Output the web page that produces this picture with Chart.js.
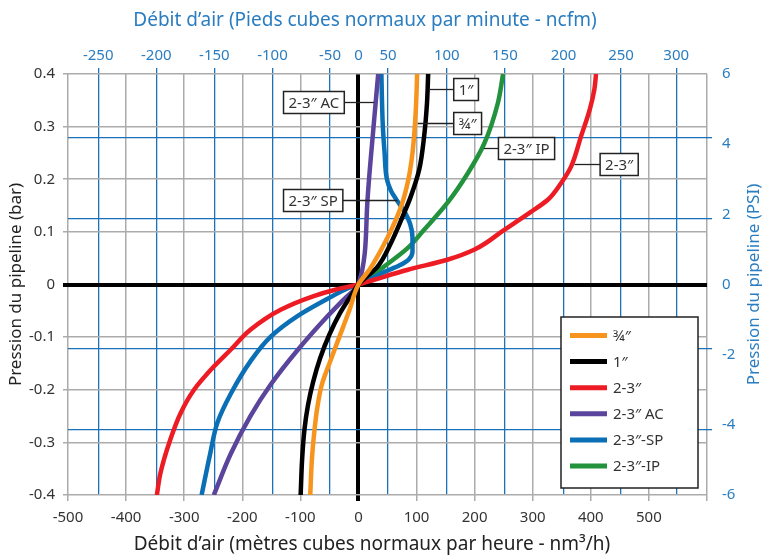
<!DOCTYPE html>
<html>
<head>
<meta charset="utf-8">
<script src="https://cdn.jsdelivr.net/npm/chart.js@4.4.0/dist/chart.umd.min.js"></script>
<style>
html, body { margin: 0; padding: 0; background: #fff; }
</style>
</head>
<body>
<canvas id="myChart" width="762" height="557"></canvas>
<script>
// series (débit en nm³/h, pression en bar)
const seriesLabels = ['¾″', '1″', '2-3″', '2-3″ AC', '2-3″-SP', '2-3″-IP']
const seriesColors = ['#f7941d', '#000000', '#ed1c24', '#5b449b', '#0a6fb5', '#23923d']

const flow34 = [-83, -80, -76, -71, -63, -50, -33, -16, 0, 20, 40, 57, 74, 86, 93, 97, 99.5, 101]
const pressure34 = [-0.4, -0.33, -0.28, -0.235, -0.19, -0.15, -0.1, -0.05, 0, 0.03, 0.068, 0.105, 0.15, 0.2, 0.25, 0.3, 0.35, 0.4]

const flow1 = [-99.5, -97, -93, -87, -78, -66, -50, -32, -15, 0, 33, 56, 76, 90, 104.5, 113, 118, 120]
const pressure1 = [-0.4, -0.333, -0.276, -0.23, -0.185, -0.14, -0.095, -0.055, -0.025, 0, 0.034, 0.079, 0.129, 0.167, 0.218, 0.281, 0.345, 0.4]

const flow23 = [-347, -341, -324, -306, -283, -249, -220, -186, -134, -77, -40, 0, 27, 85, 153, 199, 251, 297, 326, 349, 366, 383, 398, 406, 409]
const pressure23 = [-0.4, -0.359, -0.295, -0.244, -0.2, -0.156, -0.124, -0.086, -0.048, -0.022, -0.01, 0, 0.009, 0.028, 0.047, 0.066, 0.104, 0.138, 0.161, 0.193, 0.224, 0.281, 0.332, 0.37, 0.4]

const flowAC = [-249, -220, -186, -151, -105, -53, -25, 0, 15, 26, 34]
const pressureAC = [-0.4, -0.322, -0.25, -0.19, -0.125, -0.06, -0.028, 0, 0.15, 0.3, 0.4]

const flowSP = [-270, -255, -243, -220, -186, -151, -105, -48, -20, 0, 20, 45, 70, 86, 93, 93, 89, 80, 68, 56, 49, 45, 42, 40.5, 39.5]
const pressureSP = [-0.4, -0.32, -0.263, -0.208, -0.146, -0.099, -0.06, -0.024, -0.008, 0, 0.01, 0.024, 0.036, 0.047, 0.062, 0.09, 0.115, 0.137, 0.157, 0.178, 0.2, 0.25, 0.3, 0.35, 0.4]

const flowIP = [0, 44, 84.5, 113, 153, 188, 216.6, 240, 249]
const pressureIP = [0, 0.034, 0.069, 0.104, 0.155, 0.211, 0.268, 0.345, 0.4]

const seriesFlows = [flow34, flow1, flow23, flowAC, flowSP, flowIP]
const seriesPressures = [pressure34, pressure1, pressure23, pressureAC, pressureSP, pressureIP]

// axe du haut (ncfm) : position des repères sur l'échelle nm³/h
const topTickAt = [-448, -348, -248, -148, -49, 0, 51, 152, 252, 353, 452, 547]
const topTickLabels = ['-250', '-200', '-150', '-100', '-50', '0', '50', '100', '150', '200', '250', '300']

// axe de droite (PSI)
const psiTicks = [-6, -4, -2, 0, 2, 4, 6]
const psiLinesBar = [0.2795, 0.1249, -0.1213, -0.2757]

const annotations = [
    { text: '2-3″ AC', boxX: -129, y: 0.347, leaderX: 27 },
    { text: '1″', boxX: 164, y: 0.371, leaderX: 122 },
    { text: '¾″', boxX: 164, y: 0.306, leaderX: 102 },
    { text: '2-3″ IP', boxX: 241, y: 0.26, leaderX: 216 },
    { text: '2-3″', boxX: 416, y: 0.229, leaderX: 372 },
    { text: '2-3″ SP', boxX: -129, y: 0.161, leaderX: 67 },
]

const BLUE = '#1b72b8'
const BLUE_TEXT = '#2a7dc0'
const GRAY = '#ababab'

Chart.defaults.font.family = '"Noto Sans", sans-serif'

const isZero = v => Math.abs(v) < 1e-9

const overlay = {
    id: 'overlay',
    afterDatasetsDraw(chart) {
        const { ctx, scales: { x, y } } = chart
        ctx.save()
        ctx.font = '15px "Noto Sans"'
        ctx.textBaseline = 'middle'
        ctx.textAlign = 'left'
        annotations.forEach(a => {
            const left = x.getPixelForValue(a.boxX)
            const cy = Math.round(y.getPixelForValue(a.y)) + 0.5
            const w = ctx.measureText(a.text).width + 10
            const h = 22
            const lx = x.getPixelForValue(a.leaderX)
            const edge = lx > left ? left + w : left
            ctx.strokeStyle = '#222'
            ctx.lineWidth = 1.3
            ctx.beginPath()
            ctx.moveTo(lx, cy)
            ctx.lineTo(edge, cy)
            ctx.stroke()
            ctx.fillStyle = '#fff'
            ctx.fillRect(left, cy - h / 2, w, h)
            ctx.lineWidth = 1.5
            ctx.strokeRect(left, cy - h / 2, w, h)
            ctx.fillStyle = '#333'
            ctx.fillText(a.text, left + 5, cy + 1)
        })
        ctx.restore()
    },
    afterDraw(chart) {
        const { ctx, chartArea } = chart
        ctx.save()
        // légende
        const bw = 137, bh = 171
        const bx = chartArea.right - 146
        const by = chartArea.bottom - 178
        ctx.fillStyle = '#fff'
        ctx.fillRect(bx, by, bw, bh)
        ctx.strokeStyle = '#222'
        ctx.lineWidth = 1.5
        ctx.strokeRect(bx, by, bw, bh)
        ctx.font = '15px "Noto Sans"'
        ctx.textBaseline = 'middle'
        ctx.textAlign = 'left'
        chart.data.datasets.forEach((ds, i) => {
            const ry = by + 18.5 + i * 26.1
            ctx.strokeStyle = ds.borderColor
            ctx.lineWidth = 5
            ctx.beginPath()
            ctx.moveTo(bx + 9, ry)
            ctx.lineTo(bx + 46, ry)
            ctx.stroke()
            ctx.fillStyle = '#333'
            ctx.fillText(ds.label, bx + 52, ry + 1)
        })
        // titres des axes haut et bas
        ctx.textAlign = 'center'
        ctx.font = '19px "Noto Sans"'
        ctx.fillStyle = BLUE_TEXT
        ctx.fillText('Débit d’air (Pieds cubes normaux par minute - ncfm)', chartArea.left + 297, 21)
        ctx.fillStyle = '#222'
        ctx.fillText('Débit d’air (mètres cubes normaux par heure - nm³/h)', chartArea.left + 304, 545)
        // titre axe de droite
        ctx.translate(754, (chartArea.top + chartArea.bottom) / 2)
        ctx.rotate(-Math.PI / 2)
        ctx.font = '17px "Noto Sans"'
        ctx.fillStyle = BLUE_TEXT
        ctx.fillText('Pression du pipeline (PSI)', 0, 0)
        ctx.restore()
    }
}

const ctx = document.getElementById('myChart')
new Chart(ctx, {
    type: 'line',
    data: {
        datasets: seriesLabels.map((label, i) => ({
            label: label,
            data: seriesFlows[i].map((f, j) => ({ x: f, y: seriesPressures[i][j] })),
            borderColor: seriesColors[i],
            backgroundColor: seriesColors[i],
            borderWidth: 4.5,
            pointRadius: 0,
            cubicInterpolationMode: 'monotone',
            fill: false,
        }))
    },
    options: {
        indexAxis: 'y',
        responsive: false,
        animation: false,
        events: [],
        layout: { padding: 0 },
        plugins: {
            legend: { display: false },
            tooltip: { enabled: false },
        },
        scales: {
            x: {
                type: 'linear',
                position: 'bottom',
                min: -500,
                max: 600,
                ticks: {
                    stepSize: 100,
                    autoSkip: false,
                    maxRotation: 0,
                    padding: 8,
                    color: '#333',
                    font: { size: 15 },
                    callback: v => v === 600 ? '' : String(v),
                },
                grid: {
                    color: c => isZero(c.tick.value) ? '#000' : GRAY,
                    lineWidth: c => isZero(c.tick.value) ? 4 : 1.5,
                    tickLength: 6,
                },
                border: { display: false },
                title: { display: false },
                afterFit: s => { s.height = 62 },
            },
            x2: {
                type: 'linear',
                position: 'top',
                min: -500,
                max: 600,
                afterBuildTicks: axis => { axis.ticks = topTickAt.map(v => ({ value: v })) },
                ticks: {
                    autoSkip: false,
                    maxRotation: 0,
                    padding: 3,
                    color: BLUE_TEXT,
                    font: { size: 15 },
                    callback: (v, i) => topTickLabels[i],
                },
                grid: {
                    color: c => c.tick && isZero(c.tick.value) ? 'rgba(0,0,0,0)' : BLUE,
                    lineWidth: 1.3,
                    tickLength: 6,
                },
                border: { display: false },
                title: { display: false },
                afterFit: s => { s.height = 74 },
            },
            y: {
                type: 'linear',
                position: 'left',
                min: -0.4,
                max: 0.4,
                ticks: {
                    stepSize: 0.1,
                    padding: 8,
                    color: '#333',
                    font: { size: 15 },
                    callback: v => String(Math.round(v * 10) / 10),
                },
                grid: {
                    color: c => isZero(c.tick.value) ? '#000' : GRAY,
                    lineWidth: c => isZero(c.tick.value) ? 4 : 1.5,
                    tickLength: 5,
                },
                border: { display: false },
                title: {
                    display: true,
                    text: 'Pression du pipeline (bar)',
                    color: '#222',
                    font: { size: 17 },
                    padding: { top: 6, bottom: 0 },
                },
                afterFit: s => { s.width = 68 },
            },
            y2: {
                type: 'linear',
                position: 'right',
                min: -6,
                max: 6,
                afterBuildTicks: axis => {
                    const lines = psiLinesBar.map(b => b * 6 / 0.4)
                    axis.ticks = psiTicks.concat(lines).sort((a, b) => a - b).map(v => ({ value: v }))
                },
                ticks: {
                    autoSkip: false,
                    padding: 10,
                    color: BLUE_TEXT,
                    font: { size: 15 },
                    callback: v => psiTicks.includes(v) ? String(v) : '',
                },
                grid: {
                    color: c => c.tick && psiTicks.includes(c.tick.value) ? 'rgba(0,0,0,0)' : BLUE,
                    lineWidth: 1.3,
                    tickLength: 5,
                },
                border: { display: false },
                afterFit: s => { s.width = 55 },
            },
        }
    },
    plugins: [overlay]
});
</script>
</body>
</html>
